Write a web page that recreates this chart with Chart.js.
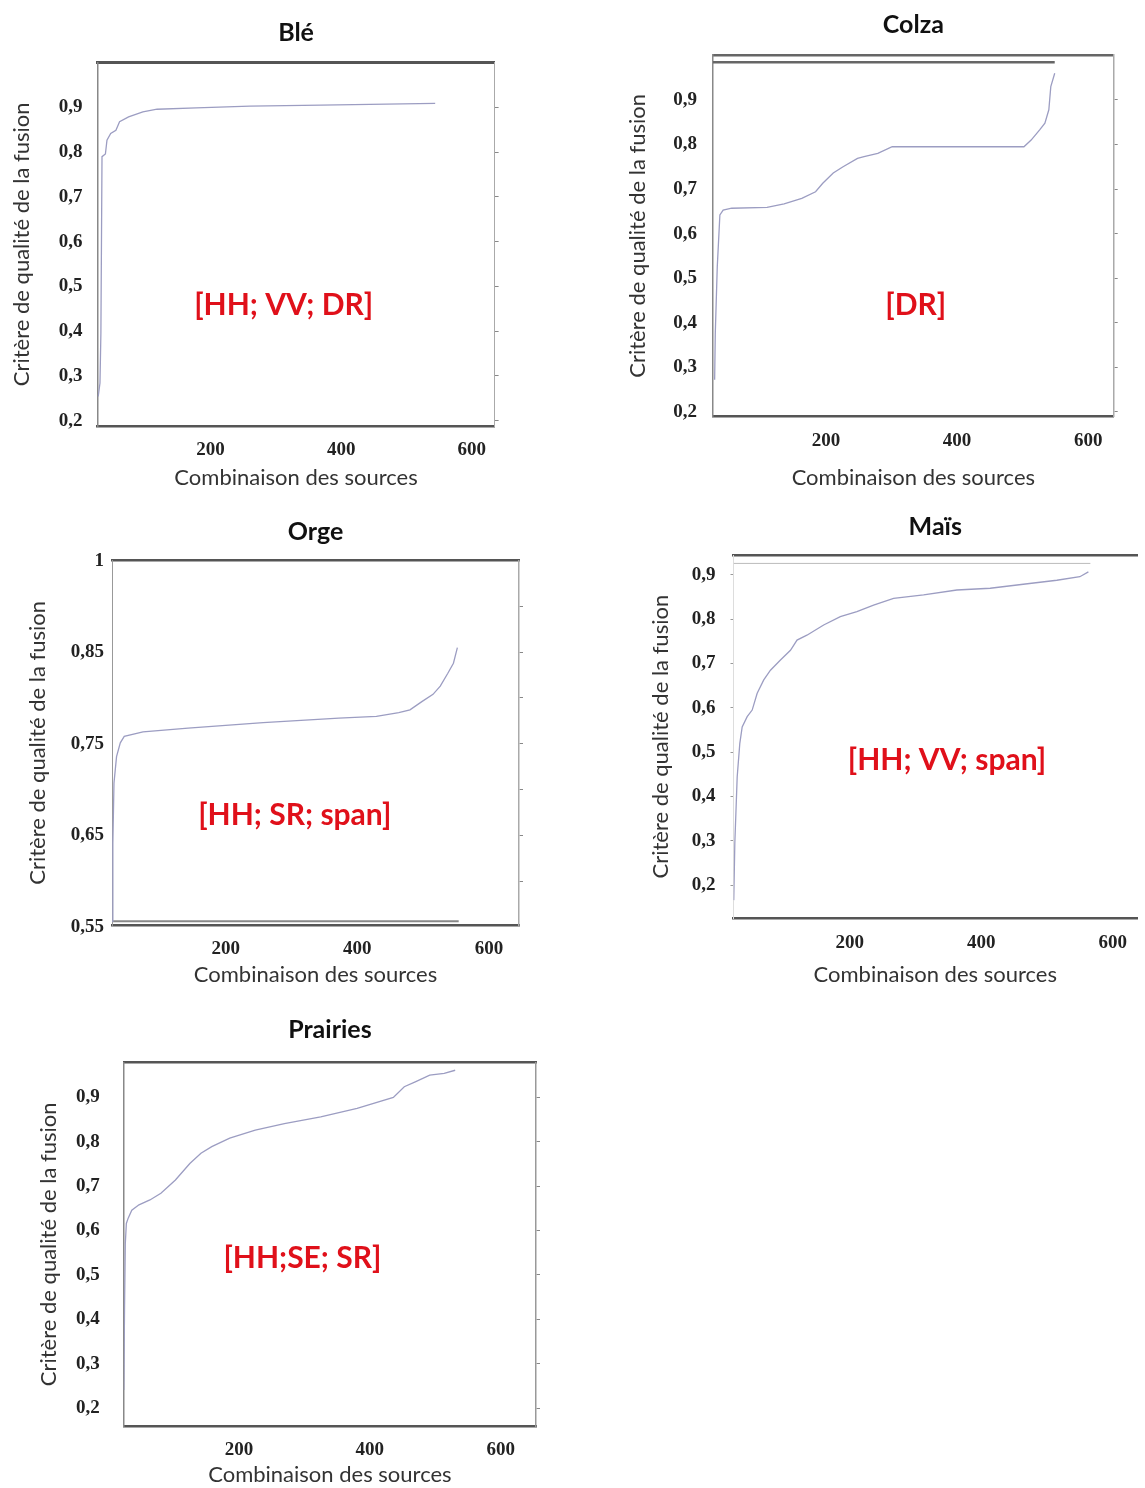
<!DOCTYPE html>
<html lang="fr">
<head>
<meta charset="utf-8">
<title>Critère de qualité de la fusion</title>
<script src="https://cdn.jsdelivr.net/npm/chart.js@4.4.1/dist/chart.umd.min.js"></script>
<style>
  html, body { margin: 0; padding: 0; background: #fff; }
  #page { position: relative; width: 1145px; height: 1488px; overflow: hidden; background: #fff; }
  #page canvas { position: absolute; }
</style>
</head>
<body>
<div id="page">
  <canvas id="chart-ble"></canvas>
  <canvas id="chart-colza"></canvas>
  <canvas id="chart-orge"></canvas>
  <canvas id="chart-mais"></canvas>
  <canvas id="chart-prairies"></canvas>
</div>
<script>
// --- données ---
const xTicks = [200, 400, 600];
const xTickLabels = ['200', '400', '600'];
const yTicks = [0.2, 0.3, 0.4, 0.5, 0.6, 0.7, 0.8, 0.9];
const yTickLabels = ['0,2', '0,3', '0,4', '0,5', '0,6', '0,7', '0,8', '0,9'];
const orgeYTicks = [0.55, 0.65, 0.75, 0.85, 0.95];
const orgeYTickLabels = ['0,55', '0,65', '0,75', '0,85', '1'];
const orgeRightTicks = [0.6, 0.65, 0.7, 0.75, 0.8, 0.85, 0.9];

const bleX = [27.9, 30.6, 32, 33.7, 38.9, 41.3, 47, 55, 60.6, 74.4, 96.3, 118, 178, 260, 369, 544];
const bleY = [0.254, 0.284, 0.396, 0.79, 0.796, 0.827, 0.842, 0.849, 0.868, 0.879, 0.89, 0.896, 0.899, 0.903, 0.905, 0.909];

const colzaX = [30, 31, 34, 38, 43, 56, 110, 136, 163, 184, 195, 211, 226, 248, 258, 279, 301, 502, 513, 526, 534, 540, 543, 549];
const colzaY = [0.272, 0.377, 0.525, 0.642, 0.653, 0.657, 0.659, 0.667, 0.679, 0.694, 0.713, 0.736, 0.75, 0.769, 0.773, 0.78, 0.795, 0.795, 0.81, 0.833, 0.848, 0.878, 0.93, 0.96];
const colzaRefX = [27.5, 549];
const colzaRefY = [0.985, 0.985];

const orgeX = [27.5, 28.7, 30.4, 34.3, 40, 46, 74.5, 143, 257, 372, 429, 463, 480, 498, 515, 526, 537.5, 546, 552];
const orgeY = [0.556, 0.641, 0.707, 0.736, 0.751, 0.758, 0.763, 0.767, 0.773, 0.778, 0.78, 0.784, 0.787, 0.796, 0.804, 0.813, 0.827, 0.838, 0.855];
const orgeRefX = [28.9, 554];
const orgeRefY = [0.556, 0.556];

const maisX = [23.8, 25.4, 29, 33, 36.6, 44.2, 51.8, 59.4, 69.4, 79.6, 94.8, 110, 120, 135, 160.5, 185.8, 211, 236.4, 266.8, 312.4, 363, 413.7, 464, 515, 550, 563];
const maisY = [0.166, 0.294, 0.444, 0.52, 0.557, 0.58, 0.595, 0.633, 0.663, 0.685, 0.708, 0.73, 0.753, 0.764, 0.787, 0.806, 0.817, 0.832, 0.847, 0.855, 0.866, 0.87, 0.879, 0.888, 0.896, 0.907];
const maisRefX = [23.8, 566];
const maisRefY = [0.926, 0.926];

const prairiesX = [24.1, 25.2, 26.4, 28, 30.8, 36.3, 47.3, 64, 80.8, 103, 125, 142, 158.5, 186, 225, 269.5, 325, 380.6, 436, 452.7, 469.5, 491.6, 513.7, 530.5];
const prairiesY = [0.241, 0.421, 0.571, 0.616, 0.628, 0.646, 0.658, 0.669, 0.684, 0.714, 0.751, 0.774, 0.789, 0.808, 0.826, 0.841, 0.856, 0.875, 0.9, 0.924, 0.935, 0.95, 0.954, 0.961];

// meilleure combinaison de sources pour chaque culture
const comboLabels = ['[HH; VV; DR]', '[DR]', '[HH; SR; span]', '[HH; VV; span]', '[HH;SE; SR]'];
const comboX = [312, 337, 305, 348, 297];
const comboY = [0.458, 0.44, 0.672, 0.482, 0.538];

const Y_TITLE = 'Critère de qualité de la fusion';
const X_TITLE = 'Combinaison des sources';
const LINE_COLOR = '#9c9dc2';
const TICK_FONT = { family: '"Liberation Serif", serif', size: 19, weight: 'bold', lineHeight: 1.2 };

// texte rouge posé dans le repère des données
const comboPlugin = {
    id: 'combo',
    afterDatasetsDraw(chart, args, opts) {
        if (!opts || !opts.text) return;
        const { ctx, scales } = chart;
        ctx.save();
        ctx.font = 'bold 30px Lato';
        ctx.fillStyle = '#e0101a';
        ctx.textAlign = 'center';
        ctx.textBaseline = 'middle';
        ctx.fillText(opts.text, scales.x.getPixelForValue(opts.x), scales.y.getPixelForValue(opts.y));
        ctx.restore();
    }
};

const panels = [
    { id: 'chart-ble', title: 'Blé', xs: bleX, ys: bleY,
      box: [8, 12, 540, 485], area: [97.5, 62.7, 494.6, 426], titleY: 33, xTitleY: 478, yTitleX: 22,
      xRange: [26.8, 635], yRange: [0.188, 1.0], yTicks: yTicks, yLabels: yTickLabels, rightTicks: yTicks, yPad: 15,
      frame: { top: ['#555', 3], bottom: ['#555', 2.5], left: ['#888', 1.5], right: ['#aaa', 1] } },
    { id: 'chart-colza', title: 'Colza', xs: colzaX, ys: colzaY, ref: { xs: colzaRefX, ys: colzaRefY, color: '#666', width: 2.5 },
      box: [620, 5, 525, 492], area: [713, 55, 1113.7, 416.7], titleY: 25, xTitleY: 478, yTitleX: 638,
      xRange: [27.5, 639], yRange: [0.189, 1.001], yTicks: yTicks, yLabels: yTickLabels, rightTicks: yTicks, yPad: 16,
      frame: { top: ['#666', 2.5], bottom: ['#555', 2.5], left: ['#888', 1.5], right: ['#aaa', 1.5] } },
    { id: 'chart-orge', title: 'Orge', xs: orgeX, ys: orgeY, ref: { xs: orgeRefX, ys: orgeRefY, color: '#888', width: 2 },
      box: [20, 512, 570, 480], area: [112, 560.7, 519, 925], titleY: 532, xTitleY: 975, yTitleX: 38,
      xRange: [27.4, 645.6], yRange: [0.552, 0.95], yTicks: orgeYTicks, yLabels: orgeYTickLabels, rightTicks: orgeRightTicks, yPad: 8,
      frame: { top: ['#555', 2.5], bottom: ['#555', 2.5], left: ['#999', 1], right: ['#aaa', 1.5] } },
    { id: 'chart-mais', title: 'Maïs', xs: maisX, ys: maisY, ref: { xs: maisRefX, ys: maisRefY, color: '#bbb', width: 1 },
      box: [640, 508, 505, 482], area: [733.5, 555, 1137, 918.3], titleY: 527, xTitleY: 975, yTitleX: 661,
      xRange: [23.4, 636.9], yRange: [0.125, 0.945], yTicks: yTicks, yLabels: yTickLabels, rightTicks: null, yPad: 18, leftTicks: true,
      frame: { top: ['#555', 2.5], bottom: ['#555', 2.5], left: ['#ddd', 1], right: null } },
    { id: 'chart-prairies', title: 'Prairies', xs: prairiesX, ys: prairiesY,
      box: [30, 1008, 570, 480], area: [123.8, 1062.7, 536, 1426], titleY: 1030, xTitleY: 1479, yTitleX: 49,
      xRange: [24.1, 654], yRange: [0.16, 0.978], yTicks: yTicks, yLabels: yTickLabels, rightTicks: yTicks, yPad: 24,
      frame: { top: ['#555', 2.5], bottom: ['#555', 2.5], left: ['#888', 1.5], right: ['#999', 1.5] } }
];

function toPoints(xs, ys) {
    return xs.map((x, i) => ({ x: x, y: ys[i] }));
}

function renderPanel(p, idx) {
    const canvas = document.getElementById(p.id);
    const [cx, cy, w, h] = p.box;
    const [L, T, R, B] = p.area;
    canvas.width = w;
    canvas.height = h;
    canvas.style.left = cx + 'px';
    canvas.style.top = cy + 'px';

    const datasets = [{
        data: toPoints(p.xs, p.ys),
        borderColor: LINE_COLOR,
        borderWidth: 1.3,
        pointRadius: 0,
        tension: 0
    }];
    if (p.ref) {
        datasets.push({
            data: toPoints(p.ref.xs, p.ref.ys),
            borderColor: p.ref.color,
            borderWidth: p.ref.width,
            pointRadius: 0
        });
    }

    const titleHalf = 25 * 1.2 / 2;
    const axisTitleHalf = 22 * 1.2 / 2;

    new Chart(canvas, {
        type: 'line',
        data: { datasets: datasets },
        plugins: [comboPlugin],
        options: {
            responsive: false,
            animation: false,
            devicePixelRatio: 1,
            layout: { padding: 0 },
            plugins: {
                legend: { display: false },
                tooltip: { enabled: false },
                title: {
                    display: true,
                    text: p.title,
                    fullSize: false,
                    color: '#111',
                    font: { family: 'Lato', size: 25, weight: 'bold', lineHeight: 1.2 },
                    padding: { top: p.titleY - cy - titleHalf, bottom: 0 }
                },
                combo: { text: comboLabels[idx], x: comboX[idx], y: comboY[idx] }
            },
            scales: {
                x: {
                    type: 'linear',
                    position: 'bottom',
                    min: p.xRange[0],
                    max: p.xRange[1],
                    afterBuildTicks: s => { s.ticks = xTicks.map(v => ({ value: v })); },
                    afterFit: s => { s.height = cy + h - B; },
                    ticks: {
                        autoSkip: false, maxRotation: 0, padding: 13,
                        color: '#222', font: TICK_FONT,
                        callback: (v, i) => xTickLabels[i]
                    },
                    grid: { display: false, drawTicks: false },
                    border: { display: true, color: p.frame.bottom[0], width: p.frame.bottom[1] },
                    title: {
                        display: true, text: X_TITLE, color: '#333',
                        font: { family: 'Lato', size: 22, lineHeight: 1.2 },
                        padding: { top: 0, bottom: Math.max(0, cy + h - p.xTitleY - axisTitleHalf) }
                    }
                },
                xTop: {
                    type: 'linear',
                    position: 'top',
                    min: p.xRange[0],
                    max: p.xRange[1],
                    afterFit: s => { s.height = T - p.titleY - titleHalf; },
                    ticks: { display: false },
                    grid: { display: false, drawTicks: false },
                    border: { display: true, color: p.frame.top[0], width: p.frame.top[1] }
                },
                y: {
                    type: 'linear',
                    position: 'left',
                    min: p.yRange[0],
                    max: p.yRange[1],
                    afterBuildTicks: s => { s.ticks = p.yTicks.map(v => ({ value: v })); },
                    afterFit: s => { s.width = L - cx; },
                    ticks: {
                        autoSkip: false, padding: p.leftTicks ? p.yPad - 3 : p.yPad,
                        color: '#222', font: TICK_FONT,
                        callback: (v, i) => p.yLabels[i]
                    },
                    grid: { display: !!p.leftTicks, drawOnChartArea: false, drawTicks: !!p.leftTicks, tickLength: 3, color: '#999' },
                    border: { display: true, color: p.frame.left[0], width: p.frame.left[1] },
                    title: {
                        display: true, text: Y_TITLE, color: '#333',
                        font: { family: 'Lato', size: 22, lineHeight: 1.2 },
                        padding: { top: p.yTitleX - cx - axisTitleHalf, bottom: 0 }
                    }
                },
                yRight: {
                    type: 'linear',
                    position: 'right',
                    min: p.yRange[0],
                    max: p.yRange[1],
                    afterBuildTicks: s => { s.ticks = (p.rightTicks || []).map(v => ({ value: v })); },
                    afterFit: s => { s.width = cx + w - R; },
                    ticks: { display: false },
                    grid: { display: !!p.rightTicks, drawOnChartArea: false, drawTicks: true, tickLength: 4, color: '#888' },
                    border: p.frame.right
                        ? { display: true, color: p.frame.right[0], width: p.frame.right[1] }
                        : { display: false }
                }
            }
        }
    });
}

panels.forEach(renderPanel);
</script>
</body>
</html>
